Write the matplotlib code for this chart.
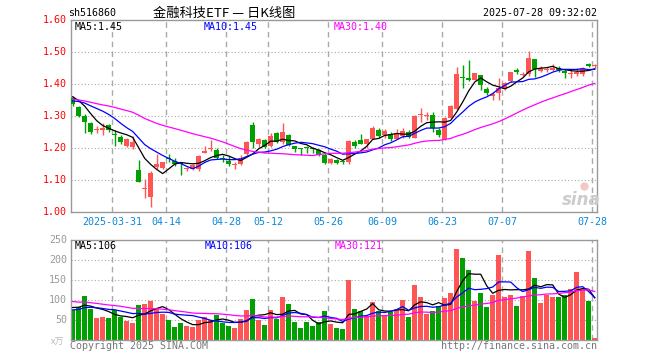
import matplotlib
matplotlib.use('Agg')
import matplotlib.pyplot as plt
import numpy as np
import pandas as pd

# 日期刻度（K线序号 -> 标签）
tick_idx = [7, 16, 26, 33, 43, 52, 62, 72, 87]
tick_labels = ['2025-03-31', '04-14', '04-28', '05-12', '05-26', '06-09', '06-23', '07-07', '07-28']

opens = [1.356, 1.329, 1.301, 1.279, 1.256, 1.256, 1.272, 1.245, 1.235, 1.208,
         1.204, 1.133, 1.074, 1.049, 1.142, 1.137, 1.170, 1.160, 1.153, 1.134,
         1.135, 1.135, 1.186, 1.199, 1.195, 1.170, 1.160, 1.149, 1.151, 1.182,
         1.273, 1.213, 1.226, 1.208, 1.249, 1.220, 1.242, 1.207, 1.199, 1.201,
         1.199, 1.195, 1.179, 1.153, 1.162, 1.159, 1.158, 1.221, 1.226, 1.214,
         1.229, 1.258, 1.241, 1.246, 1.230, 1.238, 1.252, 1.233, 1.304, 1.300,
         1.304, 1.256, 1.230, 1.296, 1.323, 1.423, 1.420, 1.414, 1.429, 1.386,
         1.362, 1.372, 1.385, 1.409, 1.446, 1.429, 1.431, 1.479, 1.442, 1.446,
         1.444, 1.452, 1.441, 1.433, 1.431, 1.431, 1.463, 1.457]
closes = [1.338, 1.301, 1.283, 1.252, 1.258, 1.262, 1.258, 1.243, 1.219, 1.230,
          1.221, 1.096, 1.077, 1.124, 1.152, 1.156, 1.168, 1.152, 1.151, 1.139,
          1.148, 1.176, 1.192, 1.201, 1.169, 1.168, 1.150, 1.151, 1.170, 1.220,
          1.221, 1.230, 1.203, 1.238, 1.220, 1.251, 1.210, 1.197, 1.198, 1.200,
          1.198, 1.180, 1.155, 1.166, 1.155, 1.157, 1.223, 1.208, 1.215, 1.228,
          1.265, 1.238, 1.255, 1.228, 1.246, 1.255, 1.236, 1.301, 1.306, 1.302,
          1.264, 1.241, 1.296, 1.333, 1.433, 1.421, 1.414, 1.434, 1.397, 1.373,
          1.369, 1.388, 1.403, 1.437, 1.440, 1.431, 1.483, 1.448, 1.450, 1.448,
          1.452, 1.445, 1.434, 1.435, 1.439, 1.452, 1.456, 1.459]
highs = [1.362, 1.333, 1.307, 1.283, 1.270, 1.279, 1.277, 1.256, 1.240, 1.232,
         1.238, 1.164, 1.104, 1.129, 1.181, 1.158, 1.182, 1.169, 1.158, 1.143,
         1.150, 1.179, 1.207, 1.226, 1.202, 1.179, 1.177, 1.158, 1.179, 1.222,
         1.282, 1.232, 1.228, 1.247, 1.252, 1.280, 1.245, 1.207, 1.202, 1.206,
         1.205, 1.199, 1.184, 1.170, 1.166, 1.163, 1.226, 1.227, 1.244, 1.230,
         1.270, 1.265, 1.259, 1.251, 1.261, 1.262, 1.257, 1.303, 1.326, 1.314,
         1.314, 1.264, 1.299, 1.335, 1.455, 1.460, 1.477, 1.436, 1.430, 1.393,
         1.375, 1.420, 1.407, 1.440, 1.450, 1.440, 1.504, 1.479, 1.458, 1.455,
         1.462, 1.458, 1.448, 1.448, 1.452, 1.455, 1.467, 1.463]
lows = [1.333, 1.299, 1.249, 1.245, 1.247, 1.240, 1.252, 1.208, 1.213, 1.203,
        1.199, 1.094, 1.046, 1.018, 1.135, 1.135, 1.158, 1.146, 1.117, 1.129,
        1.131, 1.129, 1.184, 1.192, 1.167, 1.156, 1.144, 1.135, 1.148, 1.180,
        1.202, 1.205, 1.200, 1.205, 1.217, 1.212, 1.207, 1.189, 1.180, 1.186,
        1.186, 1.175, 1.150, 1.150, 1.150, 1.151, 1.150, 1.200, 1.212, 1.200,
        1.228, 1.231, 1.233, 1.222, 1.228, 1.233, 1.231, 1.231, 1.283, 1.288,
        1.250, 1.236, 1.226, 1.294, 1.320, 1.387, 1.411, 1.412, 1.382, 1.365,
        1.350, 1.350, 1.383, 1.407, 1.433, 1.425, 1.427, 1.424, 1.440, 1.440,
        1.442, 1.440, 1.421, 1.420, 1.427, 1.427, 1.454, 1.450]
# 成交量（万手）
volumes = [76, 83, 111, 78, 56, 58, 56, 76, 59, 48,
           43, 88, 91, 98, 78, 66, 51, 33, 43, 36,
           33, 51, 58, 51, 63, 43, 36, 31, 53, 76,
           103, 51, 38, 76, 53, 108, 91, 46, 31, 46,
           36, 46, 73, 41, 31, 28, 151, 78, 73, 61,
           96, 73, 63, 71, 76, 101, 58, 138, 108, 66,
           73, 86, 106, 118, 228, 206, 176, 98, 118, 83,
           113, 213, 108, 113, 86, 111, 223, 156, 93, 113,
           108, 108, 113, 128, 171, 128, 98, 6]

# 图上第一根K线之前的收盘价和成交量（估计值，只用来算均线）
pre_closes = [1.36, 1.38, 1.37, 1.39, 1.38, 1.36, 1.37, 1.38, 1.37,
              1.38, 1.37, 1.38, 1.36, 1.38,
              1.34, 1.32, 1.30, 1.31, 1.30, 1.31,
              1.32, 1.33, 1.34, 1.34, 1.345,
              1.36, 1.37, 1.37, 1.367]
pre_volumes = [130, 110, 125, 105, 120, 115, 118, 112, 128, 115,
               100, 95, 105, 90, 98, 92, 100, 96, 94, 102,
               72, 65, 70, 68, 75,
               80, 85, 90, 79]

RED = '#FF5555'
GREEN = '#00A000'
GRID = '#AAAAAA'
MONO = 'DejaVu Sans Mono'
CJK = ['Noto Sans CJK SC', 'DejaVu Sans']

n = len(closes)
x = np.arange(n)
o = np.array(opens)
c = np.array(closes)
h = np.array(highs)
l = np.array(lows)
v = np.array(volumes)
up = c >= o
colors = np.where(up, RED, GREEN)


def ma(pre, vals, k):
    s = pd.Series(list(pre) + list(vals), dtype=float)
    return s.rolling(k).mean().values[len(pre):]


W, H = 660, 360
fig = plt.figure(figsize=(6.6, 3.6), dpi=100, facecolor='white')


def px_axes(left, top, right, bottom):
    return fig.add_axes([left / W, 1 - bottom / H, (right - left) / W, (bottom - top) / H])


def ftext(px, py, s, **kw):
    fig.text(px / W, 1 - py / H, s, **kw)


ax = px_axes(70.7, 20.3, 596.7, 212.3)
ax2 = px_axes(70.7, 240.3, 596.7, 340.3)

for a in (ax, ax2):
    a.set_xlim(-0.33, n - 0.67)
    a.set_xticks([])
    a.set_yticks([])
    for sp in a.spines.values():
        sp.set_color('#999999')
        sp.set_linewidth(1.0)
    for t in tick_idx:
        a.axvline(t - 0.4, color=GRID, lw=1.0, ls=(0, (4, 3)), zorder=0)

# ---- K线 ----
ax.set_ylim(1.0, 1.6)
for yv in [1.1, 1.2, 1.3, 1.4, 1.5]:
    ax.axhline(yv, color=GRID, lw=0.8, ls=(0, (1, 2)), zorder=0)

ax.vlines(x, l, h, colors=colors, lw=1.0, zorder=2)
body = np.maximum(np.abs(c - o), 0.003)
ax.bar(x, body, bottom=np.minimum(o, c), width=0.75, color=colors, zorder=3)

p5 = ma(pre_closes, closes, 5)
p10 = ma(pre_closes, closes, 10)
p30 = ma(pre_closes, closes, 30)
ax.plot(x, p5, color='black', lw=0.9, zorder=4)
ax.plot(x, p10, color='#0000FF', lw=0.9, zorder=4)
ax.plot(x, p30, color='#FF00FF', lw=0.9, zorder=4)

# ---- 成交量 ----
ax2.set_ylim(0, 250)
for yv in [50, 100, 150, 200]:
    ax2.axhline(yv, color=GRID, lw=0.8, ls=(0, (1, 2)), zorder=0)
ax2.bar(x, v, width=0.8, color=colors, zorder=2)
v5 = ma(pre_volumes, volumes, 5)
v10 = ma(pre_volumes, volumes, 10)
v30 = ma(pre_volumes, volumes, 30)
ax2.plot(x, v5, color='black', lw=0.9, zorder=3)
ax2.plot(x, v10, color='#0000FF', lw=0.9, zorder=3)
ax2.plot(x, v30, color='#FF00FF', lw=0.9, zorder=3)

# ---- 文字 ----
fs = 7.2
ftext(68, 13, 'sh516860', family=MONO, size=fs, va='center', ha='left')
ftext(224, 13.5, '金融科技ETF — 日K线图', family=CJK, size=9.5, va='center', ha='center')
ftext(597, 13, '2025-07-28 09:32:02', family=MONO, size=fs, va='center', ha='right')

for yv in [1.0, 1.1, 1.2, 1.3, 1.4, 1.5, 1.6]:
    ftext(67, 212.3 - (yv - 1.0) * 320, '%.2f' % yv, family=MONO, size=fs,
          color='#FF0000', va='center', ha='right')
for yv in [50, 100, 150, 200, 250]:
    ftext(67, 340.3 - yv * 0.4, '%d' % yv, family=MONO, size=fs,
          color='#999999', va='center', ha='right')
ftext(64, 342, 'x万', family=CJK, size=6.5, color='#BBBBBB', va='center', ha='right')

for t, lab in zip(tick_idx, tick_labels):
    ftext(72.7 + 6 * t - 2.4, 222, lab, family=MONO, size=fs, color='#0A88D8',
          va='center', ha='center')

ftext(75, 27, 'MA5:%.2f' % p5[-1], family=MONO, size=fs, color='black', va='center')
ftext(204, 27, 'MA10:%.2f' % p10[-1], family=MONO, size=fs, color='#0000FF', va='center')
ftext(334, 27, 'MA30:%.2f' % p30[-1], family=MONO, size=fs, color='#FF00FF', va='center')
ftext(75, 246, 'MA5:%d' % v5[-1], family=MONO, size=fs, color='black', va='center')
ftext(205, 246, 'MA10:%d' % v10[-1], family=MONO, size=fs, color='#0000FF', va='center')
ftext(335, 246, 'MA30:%d' % v30[-1], family=MONO, size=fs, color='#FF00FF', va='center')

ftext(70, 346, 'Copyright 2025 SINA.COM', family=MONO, size=fs, color='#777777', va='center')
ftext(597, 346, 'http://finance.sina.com.cn', family=MONO, size=fs, color='#777777',
      va='center', ha='right')

# 水印
ftext(581, 200, 'sina', family='DejaVu Sans', size=12, style='italic', weight='bold',
      color='#CCCCCC', va='center', ha='center')
fig.add_artist(plt.Line2D([584 / W], [1 - 186 / H], marker='o', markersize=5,
                          color='#F2C8C8', transform=fig.transFigure))

fig.savefig('out.png', dpi=100, facecolor='white')
